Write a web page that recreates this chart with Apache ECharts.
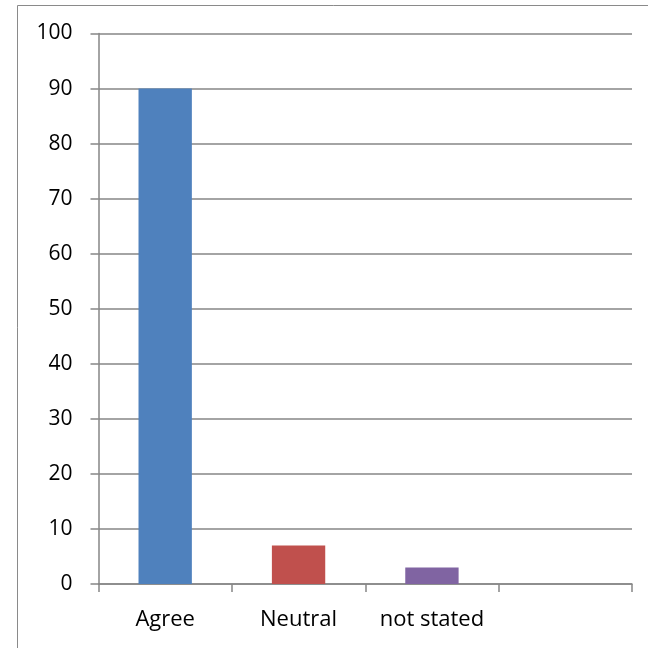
<!DOCTYPE html>
<html>
<head>
<meta charset="utf-8">
<script src="https://cdn.jsdelivr.net/npm/echarts@6/dist/echarts.min.js"></script>
<style>
  html, body { margin: 0; padding: 0; background: #fff; }
  #chart { width: 648px; height: 648px; }
</style>
</head>
<body>
<div id="chart"></div>
<script>
// Responses per category (the fourth slot on the axis is left empty)
const categories = ['Agree', 'Neutral', 'not stated', ''];
const values = [90, 7, 3, null];
const barColors = ['#4F81BD', '#C0504D', '#8064A2', '#4F81BD'];
const yTicks = { min: 0, max: 100, interval: 10 };

const FONT = '"Open Sans", Lato, sans-serif';
const AXIS_GRAY = '#868686';

const chart = echarts.init(document.getElementById('chart'), null, { renderer: 'canvas' });

chart.setOption({
  animation: false,
  backgroundColor: '#ffffff',
  graphic: [{
    type: 'rect',
    shape: { x: 17.5, y: 5.5, width: 700, height: 700 },
    style: { fill: 'none', stroke: '#8a8a8a', lineWidth: 1 },
    silent: true,
    z: 0
  }],
  grid: { left: 98.5, right: 16, top: 33.5, bottom: 64, containLabel: false },
  xAxis: {
    type: 'category',
    data: categories,
    axisLine: { show: true, lineStyle: { color: AXIS_GRAY, width: 1.5 } },
    axisTick: { show: true, interval: 0, alignWithLabel: false, length: 8, lineStyle: { color: AXIS_GRAY, width: 1.5 } },
    axisLabel: { interval: 0, hideOverlap: false, color: '#000', fontFamily: FONT, fontSize: 22, margin: 25 },
    splitLine: { show: false }
  },
  yAxis: {
    type: 'value',
    min: yTicks.min,
    max: yTicks.max,
    interval: yTicks.interval,
    axisLine: { show: true, lineStyle: { color: AXIS_GRAY, width: 1.5 } },
    axisTick: { show: true, length: 8, lineStyle: { color: AXIS_GRAY, width: 1.5 } },
    axisLabel: { color: '#000', fontFamily: FONT, fontSize: 21, margin: 26, padding: [3, 0, 0, 0] },
    splitLine: { show: true, lineStyle: { color: AXIS_GRAY, width: 1.5 } }
  },
  series: [{
    type: 'bar',
    data: values.map((v, i) => ({ value: v, itemStyle: { color: barColors[i] } })),
    barWidth: '40%',
    z: 3
  }]
});
</script>
</body>
</html>
